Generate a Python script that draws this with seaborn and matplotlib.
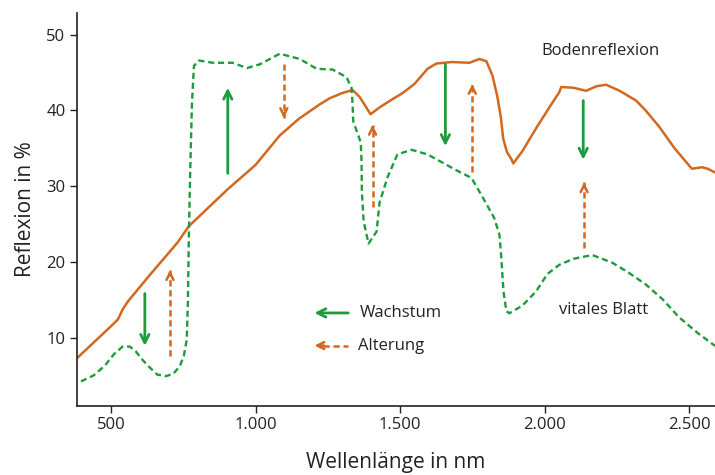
import matplotlib
matplotlib.use("Agg")
import matplotlib.pyplot as plt
import seaborn as sns
import pandas as pd
from matplotlib.ticker import FuncFormatter

# ---- data ----
soil_nm = [383, 450, 500, 524, 540, 559, 635, 700, 731, 769, 904, 1000, 1084, 1150, 1222,
           1256, 1300, 1336, 1360, 1380, 1398, 1429, 1470, 1509, 1550, 1595, 1626, 1680,
           1740, 1775, 1799, 1820, 1837, 1849, 1857, 1870, 1885, 1892, 1923, 1975, 2020,
           2051, 2058, 2100, 2144, 2180, 2213, 2260, 2317, 2350, 2396, 2450, 2510, 2545,
           2565, 2590]
soil_val = [7.3, 9.7, 11.5, 12.4, 13.7, 14.8, 18.3, 21.2, 22.6, 24.7, 29.6, 32.8, 36.7, 38.9,
            40.8, 41.6, 42.3, 42.7, 41.8, 40.6, 39.5, 40.4, 41.4, 42.3, 43.5, 45.5, 46.2,
            46.4, 46.3, 46.8, 46.5, 44.6, 41.8, 39.1, 36.3, 34.5, 33.6, 33.0, 34.6, 37.9,
            40.6, 42.4, 43.1, 43.0, 42.6, 43.2, 43.4, 42.6, 41.3, 40.0, 37.9, 35.0, 32.3,
            32.5, 32.3, 31.8]

leaf_nm = [396, 440, 479, 510, 540, 565, 585, 610, 635, 660, 690, 715, 738, 752, 762, 766,
           769, 774, 780, 787, 804, 852, 921, 970, 1015, 1084, 1153, 1212, 1267, 1315, 1332,
           1336, 1338, 1350, 1364, 1367, 1368, 1374, 1391, 1419, 1429, 1457, 1491, 1540,
           1595, 1695, 1747, 1785, 1826, 1844, 1851, 1858, 1868, 1878, 1923, 1971, 2010,
           2051, 2100, 2165, 2234, 2290, 2351, 2410, 2465, 2530, 2590]
leaf_val = [4.2, 5.0, 6.3, 7.8, 8.8, 8.8, 8.2, 7.0, 6.0, 5.1, 4.9, 5.2, 6.2, 7.6, 9.7, 14.8,
            22.6, 32.0, 40.9, 45.9, 46.6, 46.3, 46.3, 45.6, 46.1, 47.5, 46.8, 45.5, 45.4, 44.4,
            43.0, 40.8, 38.6, 37.3, 35.8, 33.3, 29.2, 25.4, 22.4, 24.0, 27.8, 31.2, 34.2, 34.8,
            34.2, 32.1, 31.1, 28.6, 25.8, 23.6, 20.3, 16.1, 13.5, 13.2, 14.2, 16.1, 18.4,
            19.6, 20.4, 20.9, 19.9, 18.6, 17.0, 15.0, 12.7, 10.6, 8.9]

growth_nm = [617, 904, 1657, 2134]
growth_from = [15.8, 31.7, 46.1, 41.3]
growth_to = [8.9, 43.0, 35.3, 33.5]

aging_nm = [704, 1098, 1405, 1750, 2137]
aging_from = [7.5, 46.2, 27.2, 31.9, 21.8]
aging_to = [18.9, 39.0, 38.1, 43.5, 30.5]

x_ticks = [500, 1000, 1500, 2000, 2500]
y_ticks = [10, 20, 30, 40, 50]

ORANGE = "#d2691f"
GREEN = "#1e9b3c"
TEXT = "#222222"

sns.set_style("ticks")
plt.rcParams["font.family"] = ["Open Sans", "DejaVu Sans"]

fig = plt.figure(figsize=(7.15, 4.75), dpi=100)
ax = fig.add_axes([0.108, 0.146, 0.892, 0.827])

soil = pd.DataFrame({"nm": soil_nm, "val": soil_val})
leaf = pd.DataFrame({"nm": leaf_nm, "val": leaf_val})

sns.lineplot(data=soil, x="nm", y="val", ax=ax, color=ORANGE, lw=1.8, sort=False)
sns.lineplot(data=leaf, x="nm", y="val", ax=ax, color=GREEN, lw=1.7, sort=False,
             linestyle=(0, (2.6, 1.6)))

# growth arrows (solid green)
for x, a, b in zip(growth_nm, growth_from, growth_to):
    ax.annotate("", xy=(x, b), xytext=(x, a),
                arrowprops=dict(arrowstyle="->,head_length=0.6,head_width=0.3",
                                color=GREEN, lw=2, shrinkA=0, shrinkB=0))

# aging arrows (dashed orange)
for x, a, b in zip(aging_nm, aging_from, aging_to):
    ax.plot([x, x], [a, b], color=ORANGE, lw=1.8, linestyle=(0, (2.5, 1.5)))
    d = 0.6 if b > a else -0.6
    ax.annotate("", xy=(x, b), xytext=(x, b - d),
                arrowprops=dict(arrowstyle="->,head_length=0.5,head_width=0.25",
                                color=ORANGE, lw=1.8, shrinkA=0, shrinkB=0))

# legend (drawn in axes coordinates)
ax.annotate("", xy=(0.372, 0.236), xytext=(0.425, 0.236), xycoords="axes fraction",
            arrowprops=dict(arrowstyle="->,head_length=0.6,head_width=0.3",
                        color=GREEN, lw=2, shrinkA=0, shrinkB=0))
ax.text(0.443, 0.236, "Wachstum", transform=ax.transAxes, fontsize=12,
        va="center", ha="left", color=TEXT)
ax.plot([0.385, 0.425], [0.153, 0.153], transform=ax.transAxes, color=ORANGE, lw=1.8,
        linestyle=(0, (2.5, 1.5)))
ax.annotate("", xy=(0.372, 0.153), xytext=(0.387, 0.153), xycoords="axes fraction",
            arrowprops=dict(arrowstyle="->,head_length=0.5,head_width=0.25",
                        color=ORANGE, lw=1.8, shrinkA=0, shrinkB=0))
ax.text(0.440, 0.153, "Alterung", transform=ax.transAxes, fontsize=12,
        va="center", ha="left", color=TEXT)

ax.text(2193, 47.9, "Bodenreflexion", fontsize=12, ha="center", va="center", color=TEXT)
ax.text(2203, 13.6, "vitales Blatt", fontsize=12, ha="center", va="center", color=TEXT)

ax.set_xlim(383, 2590)
ax.set_ylim(1.0, 52.9)
ax.set_xticks(x_ticks)
ax.set_yticks(y_ticks)
ax.xaxis.set_major_formatter(FuncFormatter(lambda v, p: f"{int(v):,}".replace(",", ".")))
ax.tick_params(axis="both", labelsize=12, length=5, width=1, color=TEXT,
               labelcolor=TEXT)
ax.set_xlabel("Wellenlänge in nm", fontsize=15, color=TEXT, labelpad=13)
ax.set_ylabel("Reflexion in %", fontsize=15, color=TEXT, labelpad=7)
for s in ["left", "bottom"]:
    ax.spines[s].set_color(TEXT)
    ax.spines[s].set_linewidth(1.2)
sns.despine(ax=ax)

fig.savefig("out.png", dpi=100)
